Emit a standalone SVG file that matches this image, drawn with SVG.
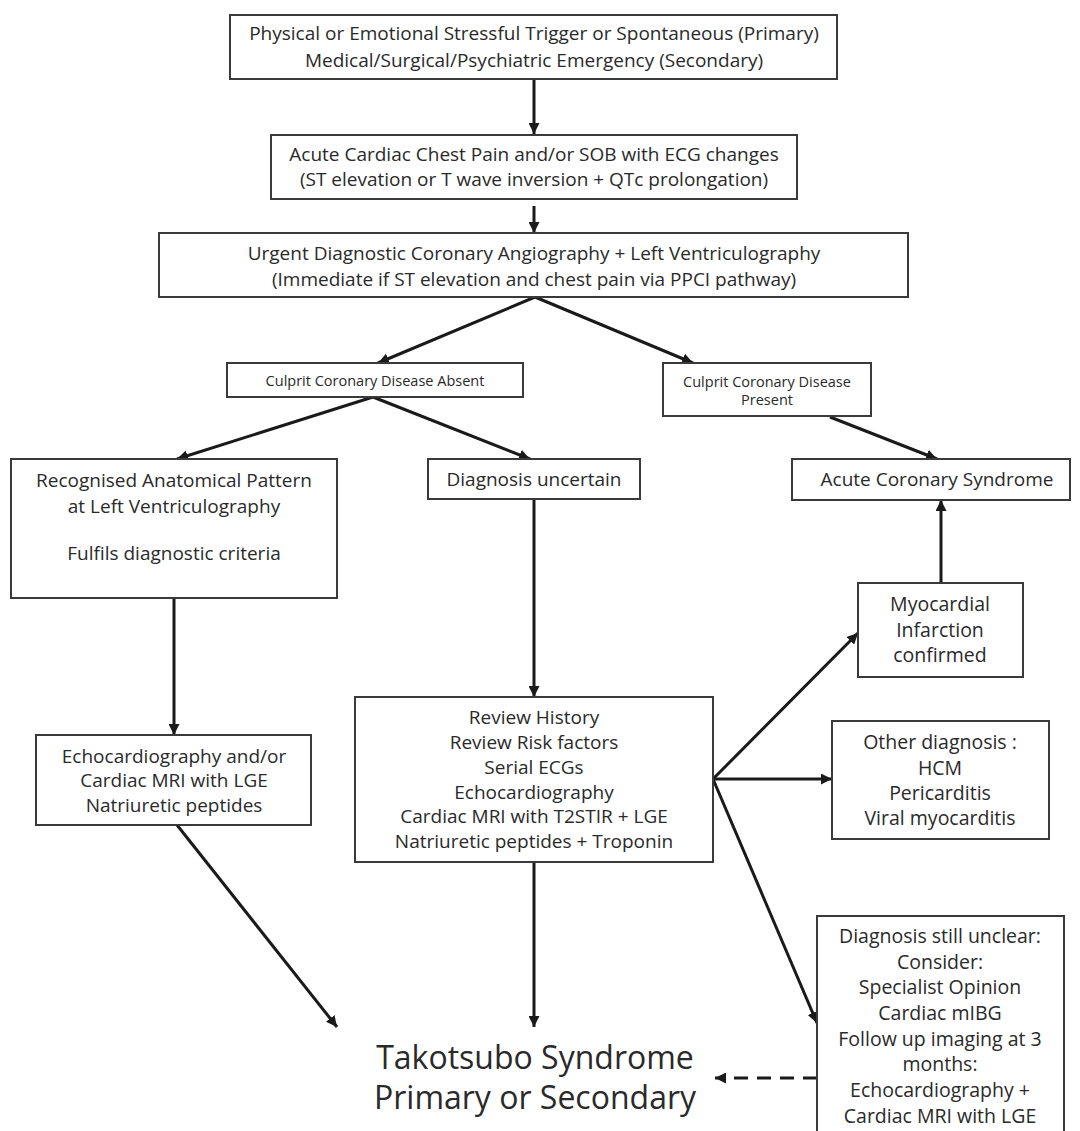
<svg xmlns="http://www.w3.org/2000/svg" width="1080" height="1131" viewBox="0 0 1080 1131">
<style>
.box{fill:#fff;stroke:#3a3a3a;stroke-width:2}
text{font-family:"Open Sans","Liberation Sans",sans-serif;fill:#2a2a2a;text-anchor:middle}
.t{font-size:19px}
.s{font-size:14.5px}
.r{font-size:19.5px}
.big{font-size:32px}
.c{stroke:#1a1a1a;stroke-width:3;fill:none}
.d{stroke:#1a1a1a;stroke-width:3;fill:none;stroke-dasharray:14 9}
</style>
<defs>
<marker id="ah" viewBox="0 0 10 10" refX="10" refY="5" markerWidth="11" markerHeight="11" markerUnits="userSpaceOnUse" orient="auto">
<path d="M0,0 L10,5 L0,10 z" fill="#1a1a1a"/>
</marker>
</defs>
<rect width="1080" height="1131" fill="#fff"/>

<g id="connectors">
<line class="c" x1="534" y1="79" x2="534" y2="134" marker-end="url(#ah)"/>
<line class="c" x1="534" y1="206" x2="534" y2="233" marker-end="url(#ah)"/>
<line class="c" x1="535" y1="297" x2="378" y2="363" marker-end="url(#ah)"/>
<line class="c" x1="535" y1="297" x2="693" y2="363" marker-end="url(#ah)"/>
<line class="c" x1="373" y1="397" x2="177" y2="459" marker-end="url(#ah)"/>
<line class="c" x1="373" y1="397" x2="530" y2="459" marker-end="url(#ah)"/>
<line class="c" x1="830" y1="417" x2="937" y2="459" marker-end="url(#ah)"/>
<line class="c" x1="174" y1="598" x2="174" y2="735" marker-end="url(#ah)"/>
<line class="c" x1="534" y1="499" x2="534" y2="697" marker-end="url(#ah)"/>
<line class="c" x1="941" y1="583" x2="941" y2="500" marker-end="url(#ah)"/>
<line class="c" x1="713" y1="779" x2="858" y2="633" marker-end="url(#ah)"/>
<line class="c" x1="713" y1="779" x2="832" y2="779" marker-end="url(#ah)"/>
<line class="c" x1="713" y1="779" x2="817" y2="1023" marker-end="url(#ah)"/>
<line class="c" x1="177" y1="825" x2="337" y2="1027" marker-end="url(#ah)"/>
<line class="c" x1="534" y1="862" x2="534" y2="1027" marker-end="url(#ah)"/>
<line class="d" x1="817" y1="1078" x2="715" y2="1078" marker-end="url(#ah)"/>
</g>

<g id="trigger">
<rect class="box" x="230" y="15" width="607" height="64"/>
<text class="t" x="534" y="40">Physical or Emotional Stressful Trigger or Spontaneous (Primary)</text>
<text class="t" x="534" y="67">Medical/Surgical/Psychiatric Emergency (Secondary)</text>
</g>

<g id="chestpain">
<rect class="box" x="271" y="135" width="526" height="64"/>
<text class="t" x="534" y="161">Acute Cardiac Chest Pain and/or SOB with ECG changes</text>
<text class="t" x="534" y="186">(ST elevation or T wave inversion + QTc prolongation)</text>
</g>

<g id="angiography">
<rect class="box" x="159" y="233" width="749" height="64"/>
<text class="t" x="534" y="260">Urgent Diagnostic Coronary Angiography + Left Ventriculography</text>
<text class="t" x="534" y="286">(Immediate if ST elevation and chest pain via PPCI pathway)</text>
</g>

<g id="absent">
<rect class="box" x="227" y="363" width="296" height="34"/>
<text class="s" x="375" y="386">Culprit Coronary Disease Absent</text>
</g>

<g id="present">
<rect class="box" x="663" y="363" width="208" height="53"/>
<text class="s" x="767" y="387">Culprit Coronary Disease</text>
<text class="s" x="767" y="405">Present</text>
</g>

<g id="recognised">
<rect class="box" x="11" y="459" width="326" height="139"/>
<text class="t" x="174" y="487">Recognised Anatomical Pattern</text>
<text class="t" x="174" y="513">at Left Ventriculography</text>
<text class="t" x="174" y="560">Fulfils diagnostic criteria</text>
</g>

<g id="uncertain">
<rect class="box" x="428" y="459" width="212" height="40"/>
<text class="t" x="534" y="486">Diagnosis uncertain</text>
</g>

<g id="acs">
<rect class="box" x="792" y="459" width="278" height="41"/>
<text class="t" x="937" y="486">Acute Coronary Syndrome</text>
</g>

<g id="mi">
<rect class="box" x="858" y="583" width="165" height="94"/>
<text class="r" x="940" y="611">Myocardial</text>
<text class="r" x="940" y="637">Infarction</text>
<text class="r" x="940" y="662">confirmed</text>
</g>

<g id="echo">
<rect class="box" x="36" y="735" width="275" height="90"/>
<text class="t" x="174" y="763">Echocardiography and/or</text>
<text class="t" x="174" y="787">Cardiac MRI with LGE</text>
<text class="t" x="174" y="812">Natriuretic peptides</text>
</g>

<g id="review">
<rect class="box" x="355" y="697" width="358" height="165"/>
<text class="t" x="534" y="724">Review History</text>
<text class="t" x="534" y="749">Review Risk factors</text>
<text class="t" x="534" y="774">Serial ECGs</text>
<text class="t" x="534" y="799">Echocardiography</text>
<text class="t" x="534" y="823">Cardiac MRI with T2STIR + LGE</text>
<text class="t" x="534" y="848">Natriuretic peptides + Troponin</text>
</g>

<g id="other">
<rect class="box" x="832" y="721" width="217" height="118"/>
<text class="r" x="940" y="749">Other diagnosis :</text>
<text class="r" x="940" y="775">HCM</text>
<text class="r" x="940" y="800">Pericarditis</text>
<text class="r" x="940" y="825">Viral myocarditis</text>
</g>

<g id="unclear">
<rect class="box" x="817" y="916" width="247" height="230"/>
<text class="r" x="940" y="943">Diagnosis still unclear:</text>
<text class="r" x="940" y="969">Consider:</text>
<text class="r" x="940" y="994">Specialist Opinion</text>
<text class="r" x="940" y="1020">Cardiac mIBG</text>
<text class="r" x="940" y="1046">Follow up imaging at 3</text>
<text class="r" x="940" y="1071">months:</text>
<text class="r" x="940" y="1097">Echocardiography +</text>
<text class="r" x="940" y="1123">Cardiac MRI with LGE</text>
</g>

<g id="takotsubo">
<text class="big" x="535" y="1069">Takotsubo Syndrome</text>
<text class="big" x="535" y="1109">Primary or Secondary</text>
</g>
</svg>
